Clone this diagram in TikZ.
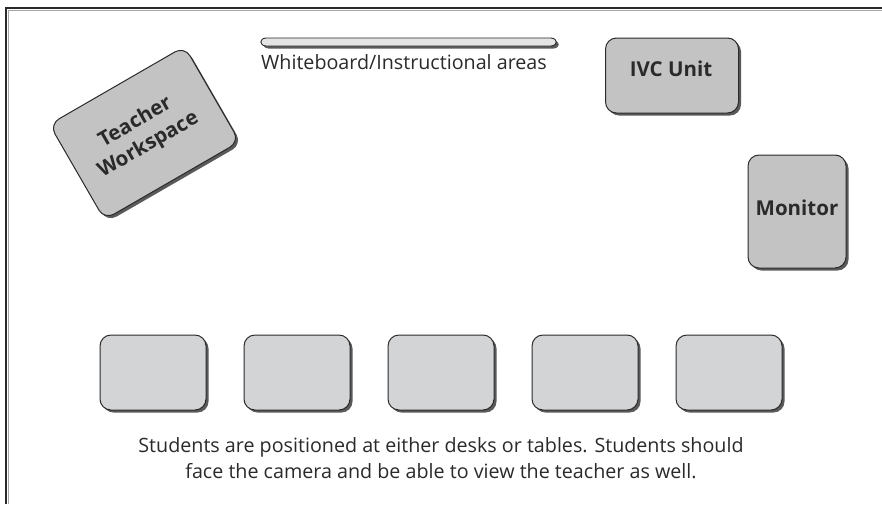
\documentclass[tikz,border=0pt]{standalone}
\usepackage{fontspec}
\setmainfont{Open Sans}
\usetikzlibrary{shadows}
\definecolor{boxfill}{HTML}{C3C3C4}
\definecolor{deskfill}{HTML}{D3D4D6}
\definecolor{barfill}{HTML}{E4E4E4}
\definecolor{edge}{HTML}{2A2A2A}
\definecolor{shade}{HTML}{5A5A5A}
\tikzset{
  shd/.style={drop shadow={shadow xshift=2.5pt, shadow yshift=-2.5pt, fill=shade, opacity=1}},
  unitbox/.style={draw=edge, line width=1pt, rounded corners=11pt, fill=boxfill, shd, inner sep=0pt},
  deskbox/.style={draw=edge, line width=1pt, rounded corners=11pt, fill=deskfill, shd, inner sep=0pt,
                  minimum width=106pt, minimum height=75pt},
  lbl/.style={font=\fontsize{20.5}{26}\selectfont\bfseries, text=edge, align=center, inner sep=0pt},
  txt/.style={font=\fontsize{19.7}{26}\selectfont, text=edge, inner sep=0pt, anchor=base},
}
\begin{document}
\begin{tikzpicture}[x=1pt,y=-1pt]
\useasboundingbox (0,0) rectangle (882,504);
% frame
\draw[gray!70, line width=1pt] (8,504) -- (8,10) -- (882,10);
\draw[edge, line width=2pt] (6,504) -- (6,8) -- (882,8);
% whiteboard bar
\path[draw=edge, line width=0.9pt, fill=barfill, shd]
  (266,38) -- (551,38) .. controls (558,38.5) and (558,45.5) .. (551,46)
  -- (266,46) .. controls (259,45.5) and (259,38.5) .. (266,38);
\node[txt] (wb) at (404,69) {Whiteboard/Instructional areas};
% IVC unit
\node[unitbox, minimum width=133pt, minimum height=75pt] (ivc) at (672,75.5) {};
\node[lbl, anchor=base] (ivcl) at (671,76.5) {IVC Unit};
% Monitor
\node[unitbox, minimum width=98pt, minimum height=113pt] (mon) at (797,211.5) {};
\node[lbl, anchor=base] (monl) at (797,215) {Monitor};
% Teacher workspace
\node[unitbox, minimum width=156pt, minimum height=110pt, rotate=30] (tw) at (144.5,133) {};
\node[lbl, rotate=30] (twl) at (142,134) {Teacher\\Workspace};
% desks
\node[deskbox] (d1) at (153,372.5) {};
\node[deskbox] (d2) at (297,372.5) {};
\node[deskbox] (d3) at (441,372.5) {};
\node[deskbox] (d4) at (585,372.5) {};
\node[deskbox] (d5) at (729,372.5) {};
\node[txt] (cap1) at (441,452) {Students are positioned at either desks or tables. Students should};
\node[txt] (cap2) at (441,478) {face the camera and be able to view the teacher as well.};
\end{tikzpicture}
\end{document}
